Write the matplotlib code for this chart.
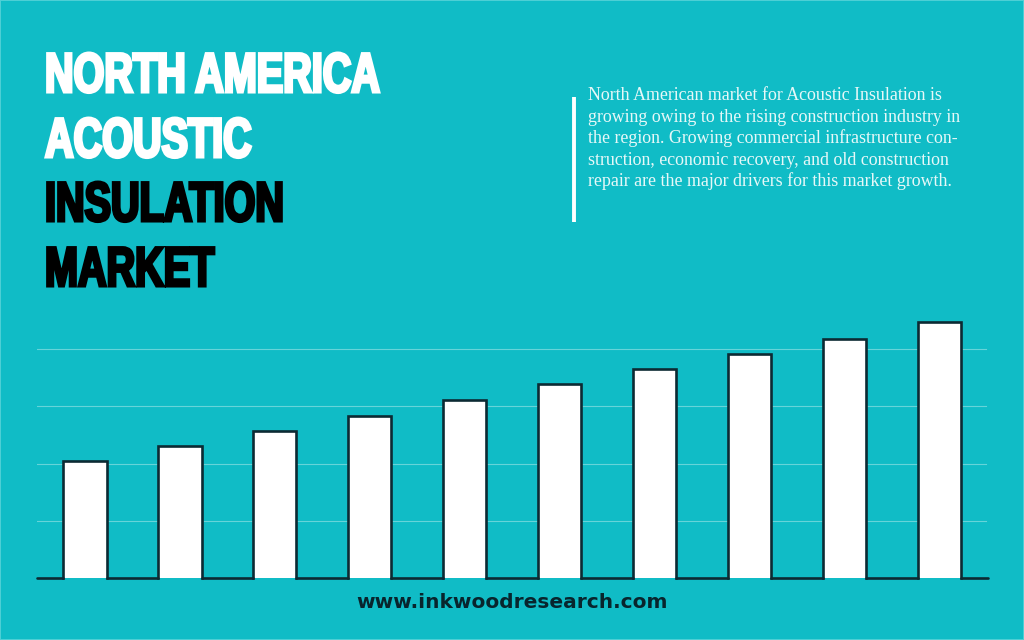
import matplotlib
matplotlib.use('Agg')
import matplotlib.pyplot as plt
import matplotlib.patheffects as pe
from matplotlib.patches import Rectangle
from matplotlib.transforms import Affine2D
from matplotlib.lines import Line2D
import numpy as np

# values in gridline units
bar_values = [2.04, 2.31, 2.57, 2.83, 3.11, 3.39, 3.65, 3.91, 4.17, 4.47]
grid_levels = [1, 2, 3, 4]
title_lines = ['NORTH AMERICA', 'ACOUSTIC', 'INSULATION', 'MARKET']
title_colors = ['white', 'white', 'black', 'black']
body_lines = ['North American market for Acoustic Insulation is',
              'growing owing to the rising construction industry in',
              'the region. Growing commercial infrastructure con-',
              'struction, economic recovery, and old construction',
              'repair are the major drivers for this market growth.']
site = 'www.inkwoodresearch.com'

W, H = 1024, 640
BG = '#10bcc6'
EDGE = '#0c2a33'


class TallText(pe.AbstractPathEffect):
    # no Impact here, so stretch a bold sans upwards from its baseline and fatten it
    def __init__(self, base_y, sy, lw, color):
        super().__init__()
        self.base_y, self.sy, self.lw, self.color = base_y, sy, lw, color

    def draw_path(self, renderer, gc, tpath, affine, rgbFace):
        stretch = Affine2D().translate(0, -self.base_y).scale(1, self.sy).translate(0, self.base_y)
        gc0 = renderer.new_gc()
        gc0.copy_properties(gc)
        gc0.set_foreground(self.color)
        gc0.set_linewidth(self.lw)
        gc0.set_joinstyle('miter')
        renderer.draw_path(gc0, tpath, affine + stretch, rgbFace)
        gc0.restore()


fig = plt.figure(figsize=(W/100, H/100), dpi=100, facecolor=BG)

# thin lighter rim around the picture
fig.add_artist(Rectangle((0, 0), 1, 1, transform=fig.transFigure, fill=False,
                         edgecolor='#4fd0d6', lw=1.4))

# axes box in pixels: x 37-988, baseline at y=578, top at y=300
ax = fig.add_axes([37/W, 1-578/H, (988-37)/W, (578-300)/H])
ax.set_facecolor('none')
ax.set_xlim(-0.506, 9.515)
ax.set_ylim(0, 278/57.25)
ax.axis('off')

xs = np.arange(len(bar_values))
w = 0.455

# grid lines
for g in grid_levels:
    ax.plot([-0.506, 9.49], [g, g], color='#66d4d9', lw=0.8, zorder=1)

ax.bar(xs, bar_values, width=w, color='white', linewidth=0, zorder=2)

# bar outline has no bottom edge, base line only runs between the bars
for x, v in zip(xs, bar_values):
    ax.plot([x-w/2, x-w/2, x+w/2, x+w/2], [0, v, v, 0], color=EDGE, lw=1.9,
            solid_joinstyle='miter', solid_capstyle='projecting', clip_on=False, zorder=3)
edges = [-0.506] + [e for x in xs for e in (x-w/2, x+w/2)] + [9.515]
for a, b in zip(edges[::2], edges[1::2]):
    ax.plot([a, b], [0, 0], color=EDGE, lw=1.9, solid_capstyle='round', clip_on=False, zorder=3)

# title
title_base = [92, 157, 221, 286]
for line, c, y in zip(title_lines, title_colors, title_base):
    t = fig.text(45/W, 1-y/H, line, color=c, fontsize=28.5, fontweight='bold',
                 family='Liberation Sans', va='baseline', ha='left')
    t.set_path_effects([TallText(H-y, 1.41, 2.2, c)])

# description
fig.add_artist(Line2D([573.5/W, 573.5/W], [1-97/H, 1-222/H], color='white', lw=2.8,
                      solid_capstyle='butt'))
body_y = [95.5, 117.5, 138.5, 160.5, 181.5]
for line, y in zip(body_lines, body_y):
    fig.text(588/W, 1-y/H, line, color='#e6f8f8', fontsize=12.85,
             family='Liberation Serif', va='center', ha='left')

fig.text(512/W, 1-603/H, site, color='#08252d', fontsize=14.5, fontweight='bold',
         family='DejaVu Sans', va='center', ha='center')

fig.savefig('out.png', dpi=100, facecolor=BG)
